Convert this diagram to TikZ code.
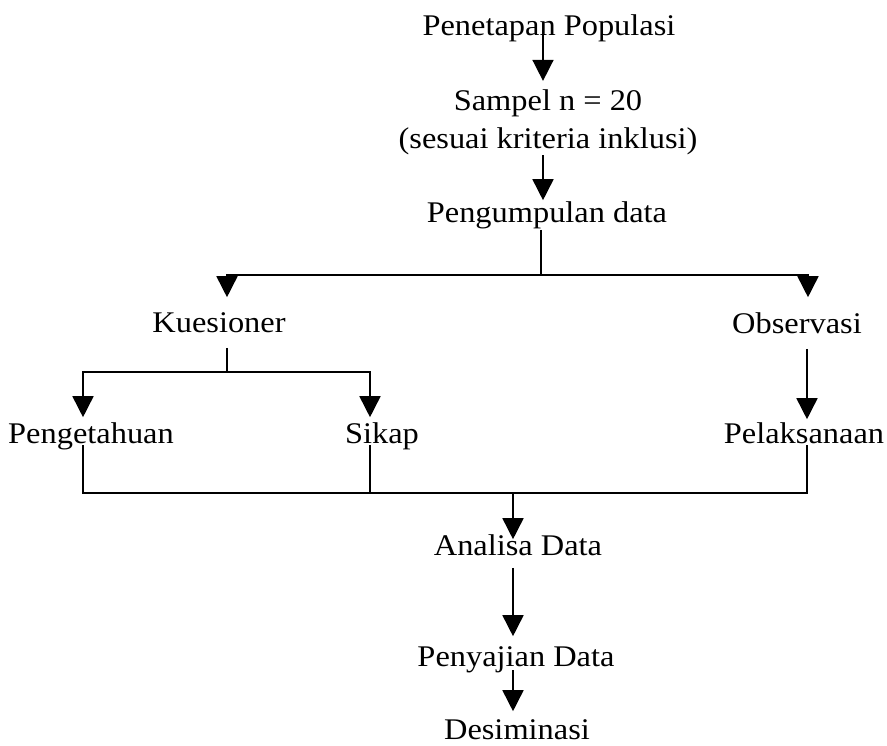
\documentclass[tikz,border=0pt]{standalone}
\usepackage{fontspec}
\setmainfont{Liberation Serif}[FakeStretch=1.08]
\usepackage{tikz}
\usetikzlibrary{arrows.meta}
\usetikzlibrary{positioning}

\begin{document}
\begin{tikzpicture}[x=1pt, y=-1pt, line width=1.6pt,
    txt/.style={inner sep=0pt, font=\fontsize{30}{38}\selectfont},
    lbl/.style={txt, anchor=base, text height=21pt, text depth=7pt},
    arr/.style={-{Triangle[width=21pt, length=21pt]}}]
    \useasboundingbox (0, 0) rectangle (887, 745);

    % tahap
    \node [lbl] (pop) at (549, 35) {Penetapan Populasi};
    \node [txt, anchor=base, align=center] (sampel) at (548, 148) {Sampel n = 20\\(sesuai kriteria inklusi)};
    \node [lbl] (kumpul) at (547, 222) {Pengumpulan data};
    \node [lbl] (kues) at (219, 332) {Kuesioner};
    \node [lbl] (obs) at (797, 333) {Observasi};
    \node [lbl] (tahu) at (91, 443) {Pengetahuan};
    \node [lbl] (sikap) at (382, 443) {Sikap};
    \node [lbl] (laksana) at (804, 443) {Pelaksanaan};
    \node [lbl] (analisa) at (518, 555) {Analisa Data};
    \node [lbl] (saji) at (516, 666) {Penyajian Data};
    \node [lbl, text depth=0pt] (desi) at (517, 739) {Desiminasi};

    \coordinate (split) at (541, 275);
    \coordinate (ksplit) at (227, 372);
    \coordinate (bus) at (513, 493);

    % panah
    \draw [arr] ([xshift=-6pt, yshift=5pt]pop.base) -- ([xshift=-5pt, yshift=7.5pt]sampel.north);
    \draw [arr] ([xshift=-5pt]sampel.south) -- ([xshift=-4pt]kumpul.north);
    \draw ([xshift=-6pt]kumpul.south) -- (split);
    \draw [arr] (split) -| ([xshift=8pt, yshift=13pt]kues.north);
    \draw [arr] (split) -| ([xshift=11pt, yshift=14pt]obs.north);

    \draw ([xshift=8pt, yshift=-8pt]kues.south) -- (ksplit);
    \draw [arr] (ksplit) -| ([xshift=-8pt, yshift=4pt]tahu.north);
    \draw [arr] (ksplit) -| ([xshift=-12pt, yshift=4pt]sikap.north);
    \draw [arr] ([xshift=10pt, yshift=-8pt]obs.south) -- ([xshift=3pt, yshift=2pt]laksana.north);

    \draw ([xshift=-8pt, yshift=-2pt]tahu.base) |- (bus) -| ([xshift=3pt, yshift=-2pt]laksana.base);
    \draw ([xshift=-12pt, yshift=-2pt]sikap.base) -- ([xshift=-12pt]sikap.base |- bus);

    \draw [arr] (bus) -- ([xshift=-5pt, yshift=-6pt]analisa.north);
    \draw [arr] ([xshift=-5pt, yshift=-5pt]analisa.south) -- ([xshift=-3pt, yshift=8pt]saji.north);
    \draw [arr] ([xshift=-3pt, yshift=-4pt]saji.base) -- ([xshift=-4pt, yshift=6pt]desi.north);
\end{tikzpicture}
\end{document}
